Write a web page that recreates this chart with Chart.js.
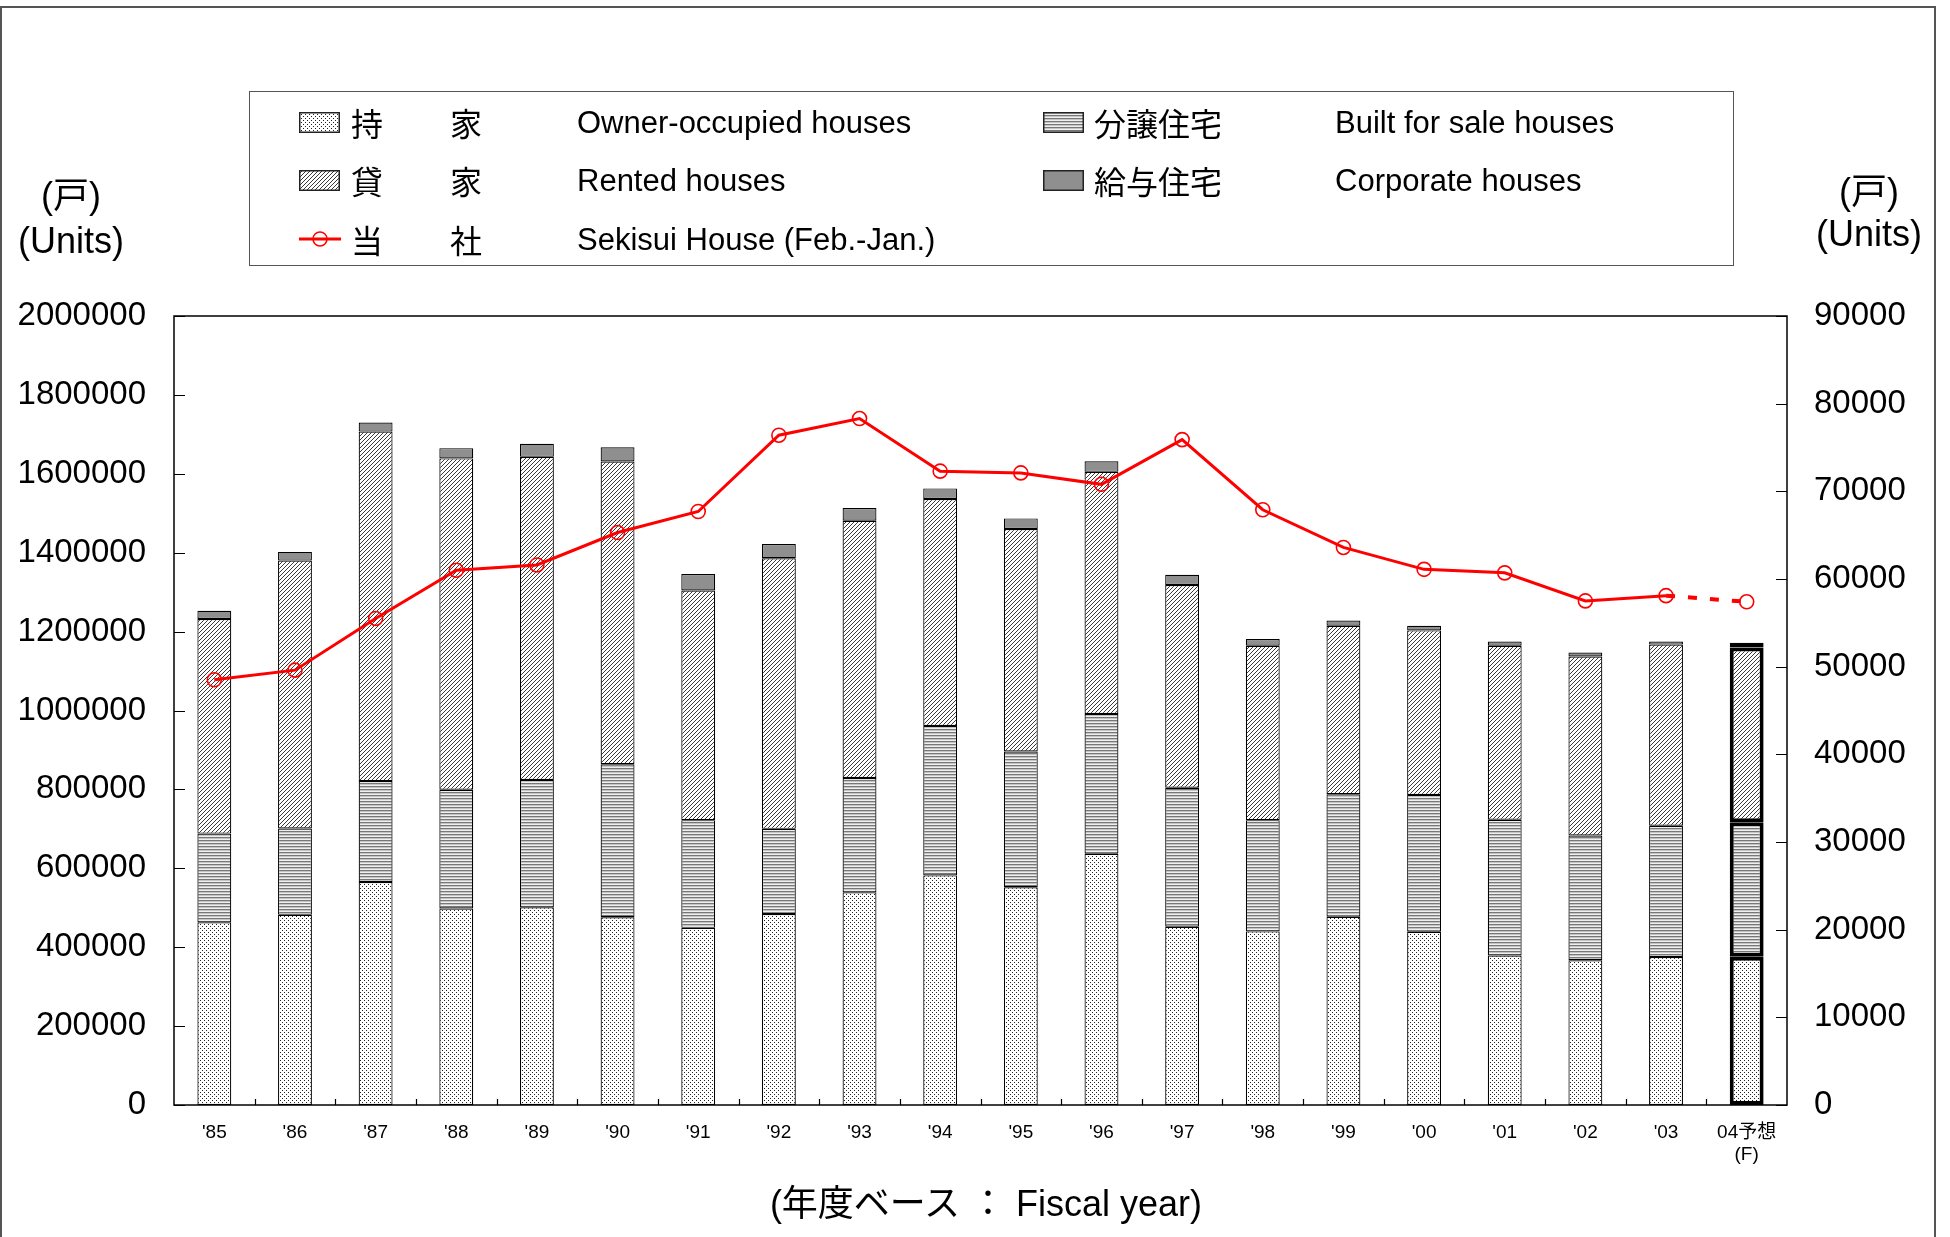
<!DOCTYPE html>
<html>
<head>
<meta charset="utf-8">
<script src="https://cdn.jsdelivr.net/npm/chart.js@4.4.1/dist/chart.umd.min.js"></script>
<style>
  html, body { margin: 0; padding: 0; background: #fff; }
  body { width: 1950px; height: 1237px; position: relative; overflow: hidden;
         font-family: "Liberation Sans", Arial, "Noto Sans CJK JP", sans-serif; }
  #frame { position: absolute; left: 0; top: 6px; width: 1936px; height: 1240px;
           border: 2px solid #555; box-sizing: border-box; }
  #wrap { position: absolute; left: 0; top: 0; width: 1950px; height: 1237px; }
  .t { position: absolute; white-space: nowrap; color: #000; }
  #legend { position: absolute; left: 249px; top: 91px; width: 1485px; height: 175px;
            border: 1.5px solid #555; box-sizing: border-box; }
  .lg { font-size: 31px; font-family: "Liberation Sans", Arial, "Noto Sans CJK JP", sans-serif; }
  .jp { font-size: 32px; font-family: "Noto Sans CJK JP", sans-serif; }
  .unit { font-size: 36px; text-align: center; width: 140px; }
</style>
</head>
<body>
<div id="frame"></div>
<div id="wrap"><canvas id="c" width="1950" height="1237"></canvas></div>

<div class="t unit" style="left:1px; top:166px;">(戸)</div>
<div class="t unit" style="left:1px; top:220px;">(Units)</div>
<div class="t unit" style="left:1799px; top:162px;">(戸)</div>
<div class="t unit" style="left:1799px; top:213px;">(Units)</div>

<div class="t" id="xtitle" style="left:0; width:1972px; top:1174px; text-align:center; font-size:36px; font-family:'Liberation Sans','Noto Sans CJK JP',sans-serif;">(年度ベース ： Fiscal year)</div>

<div id="legend"></div>

<script>
// ---------------- DATA ----------------
const categories = ["'85","'86","'87","'88","'89","'90","'91","'92","'93","'94","'95","'96","'97","'98","'99","'00","'01","'02","'03",["04予想","(F)"]];
const ownerOccupied = [463000,482000,565000,498000,501000,476000,449000,484000,539000,582000,552000,637000,452000,440000,477000,439000,379000,367000,375000,376000];
const builtForSale  = [225000,219000,256000,301000,323000,388000,273000,216000,290000,379000,344000,354000,352000,282000,311000,347000,344000,316000,333000,341000];
const rentedHouses  = [544000,679000,886000,840000,819000,767000,582000,686000,652000,575000,564000,614000,514000,442000,427000,417000,441000,454000,459000,443000];
const corporateHouses = [21000,22000,23000,26000,33000,36000,42000,36000,32000,27000,27000,27000,26000,17000,13000,12000,11000,10000,8000,12000];
const sekisuiHouse  = [48500,49600,55500,61000,61600,65300,67700,76400,78300,72300,72100,70800,75900,67900,63600,61100,60700,57500,58100,57400];
const leftAxisMax = 2000000, leftAxisStep = 200000;
const rightAxisMax = 90000, rightAxisStep = 10000;
const seriesNames = {
  owner: ["持","家","Owner-occupied houses"],
  rented: ["貸","家","Rented houses"],
  sekisui: ["当","社","Sekisui House (Feb.-Jan.)"],
  sale: ["分譲住宅","Built for sale houses"],
  corp: ["給与住宅","Corporate houses"]
};
const forecastIndex = categories.length - 1;

// ---------------- PATTERNS ----------------
function makePattern(kind) {
  const c = document.createElement('canvas');
  const g = c.getContext('2d');
  if (kind === 'dots') {
    c.width = 4; c.height = 4;
    g.fillStyle = '#fff'; g.fillRect(0,0,4,4);
    g.fillStyle = '#222';
    g.fillRect(0,0,1,1); g.fillRect(2,2,1,1);
  } else if (kind === 'hlines') {
    c.width = 4; c.height = 3;
    g.fillStyle = '#efefef'; g.fillRect(0,0,4,3);
    g.fillStyle = '#777'; g.fillRect(0,0,4,1);
    g.fillStyle = '#c4c4c4'; g.fillRect(0,1,4,1);
  } else if (kind === 'diag') {
    c.width = 4; c.height = 4;
    g.fillStyle = '#fff'; g.fillRect(0,0,4,4);
    g.fillStyle = '#3a3a3a';
    g.fillRect(3,0,1,1); g.fillRect(2,1,1,1); g.fillRect(1,2,1,1); g.fillRect(0,3,1,1);
  }
  return c;
}
const ctx = document.getElementById('c').getContext('2d');
const pats = {
  dots: ctx.createPattern(makePattern('dots'), 'repeat'),
  hlines: ctx.createPattern(makePattern('hlines'), 'repeat'),
  diag: ctx.createPattern(makePattern('diag'), 'repeat'),
};
const corpColor = '#8f8f8f';

// ---------------- LEGEND (HTML) ----------------
(function buildLegend() {
  const L = document.getElementById('legend');
  const ox = 249, oy = 91;
  function add(html) { L.insertAdjacentHTML('beforeend', html); }
  function swatch(x, yc, kind) {
    const cv = document.createElement('canvas');
    cv.width = 41; cv.height = 21;
    cv.style.position = 'absolute';
    cv.style.left = (x - ox) + 'px'; cv.style.top = (yc - 10 - oy) + 'px';
    const g = cv.getContext('2d');
    if (kind === 'solid') { g.fillStyle = corpColor; }
    else { g.fillStyle = g.createPattern(makePattern(kind), 'repeat'); }
    g.fillRect(0,0,41,21);
    g.strokeStyle = '#222'; g.lineWidth = 1.5; g.strokeRect(0.75,0.75,39.5,19.5);
    L.appendChild(cv);
  }
  function text(x, yc, s, cls) {
    add(`<div class="t ${cls}" style="left:${x-ox}px; top:${yc-oy}px; transform:translateY(-50%); line-height:1;">${s}</div>`);
  }
  const rows = [121, 179, 238];
  swatch(298, rows[0], 'dots');
  text(350, rows[0], seriesNames.owner[0], 'jp'); text(449, rows[0], seriesNames.owner[1], 'jp'); text(576, rows[0], seriesNames.owner[2], 'lg');
  swatch(298, rows[1], 'diag');
  text(350, rows[1], seriesNames.rented[0], 'jp'); text(449, rows[1], seriesNames.rented[1], 'jp'); text(576, rows[1], seriesNames.rented[2], 'lg');
  const cv = document.createElement('canvas');
  cv.width = 44; cv.height = 20; cv.style.position='absolute';
  cv.style.left = (298-ox)+'px'; cv.style.top = (rows[2]-10-oy)+'px';
  const g = cv.getContext('2d');
  g.strokeStyle = '#ff0000'; g.lineWidth = 3;
  g.beginPath(); g.moveTo(0,10); g.lineTo(42,10); g.stroke();
  g.lineWidth = 1.5; g.beginPath(); g.arc(21,10,7,0,Math.PI*2); g.stroke();
  L.appendChild(cv);
  text(350, rows[2], seriesNames.sekisui[0], 'jp'); text(449, rows[2], seriesNames.sekisui[1], 'jp'); text(576, rows[2], seriesNames.sekisui[2], 'lg');
  swatch(1042, rows[0], 'hlines');
  text(1093, rows[0], seriesNames.sale[0], 'jp'); text(1334, rows[0], seriesNames.sale[1], 'lg');
  swatch(1042, rows[1], 'solid');
  text(1093, rows[1], seriesNames.corp[0], 'jp'); text(1334, rows[1], seriesNames.corp[1], 'lg');
})();

// ---------------- CHART ----------------
const borderWidths = categories.map((_, i) => i === forecastIndex ? 4 : 1.2);

const frameTicks = {
  id: 'frameTicks',
  afterDraw(chart) {
    const { ctx, chartArea: a, scales } = chart;
    ctx.save();
    ctx.strokeStyle = '#000';
    ctx.lineWidth = 1.5;
    ctx.strokeRect(a.left, a.top, a.right - a.left, a.bottom - a.top);
    ctx.lineWidth = 1.2;
    ctx.beginPath();
    scales.y.ticks.forEach(t => {
      const py = Math.round(scales.y.getPixelForValue(t.value)) + 0.5;
      ctx.moveTo(a.left, py); ctx.lineTo(a.left + 11, py);
    });
    scales.y2.ticks.forEach(t => {
      const py = Math.round(scales.y2.getPixelForValue(t.value)) + 0.5;
      ctx.moveTo(a.right - 11, py); ctx.lineTo(a.right, py);
    });
    for (let i = 1; i < categories.length; i++) {
      const px = Math.round((scales.x.getPixelForValue(i - 1) + scales.x.getPixelForValue(i)) / 2) + 0.5;
      ctx.moveTo(px, a.bottom); ctx.lineTo(px, a.bottom - 6);
    }
    ctx.stroke();
    ctx.restore();
  }
};

new Chart(ctx, {
  type: 'bar',
  data: {
    labels: categories,
    datasets: [
      { type: 'line', label: 'Sekisui House', data: sekisuiHouse, yAxisID: 'y2', order: 0,
        borderColor: '#ff0000', borderWidth: 3, tension: 0,
        pointRadius: 7, pointHoverRadius: 7, pointBorderWidth: 1.6,
        pointBorderColor: '#ff0000', pointBackgroundColor: 'rgba(255,255,255,0)',
        segment: { borderDash: c => c.p1DataIndex === forecastIndex ? [9, 13] : undefined,
                   borderWidth: c => c.p1DataIndex === forecastIndex ? 4 : 3 } },
      { label: 'Owner-occupied houses', data: ownerOccupied, backgroundColor: pats.dots, order: 1, stack: 's' },
      { label: 'Built for sale houses', data: builtForSale, backgroundColor: pats.hlines, order: 1, stack: 's' },
      { label: 'Rented houses', data: rentedHouses, backgroundColor: pats.diag, order: 1, stack: 's' },
      { label: 'Corporate houses', data: corporateHouses, backgroundColor: corpColor, order: 1, stack: 's' },
    ].map(d => d.type === 'line' ? d : Object.assign(d, {
      borderColor: '#000', borderWidth: borderWidths, borderSkipped: false,
      categoryPercentage: 1.0, barPercentage: 0.42, yAxisID: 'y'
    }))
  },
  options: {
    responsive: false,
    animation: false,
    events: [],
    layout: { padding: { top: 316, bottom: 0, left: 0, right: 0 } },
    plugins: { legend: { display: false }, tooltip: { enabled: false }, title: { display: false } },
    scales: {
      x: {
        stacked: true,
        grid: { display: false, drawTicks: false },
        border: { display: false },
        ticks: { color: '#000', padding: 16, font: { family: "'Liberation Sans','Noto Sans CJK JP',sans-serif", size: 19 }, maxRotation: 0, autoSkip: false },
        afterFit: s => { s.height = 132; }
      },
      y: {
        position: 'left', stacked: true, min: 0, max: leftAxisMax,
        grid: { display: false, drawTicks: false },
        border: { display: false },
        ticks: { stepSize: leftAxisStep, color: '#000', padding: 28,
                 font: { family: "'Liberation Sans',Arial,sans-serif", size: 33 },
                 callback: v => String(v) },
        afterFit: s => { s.width = 174; }
      },
      y2: {
        position: 'right', min: 0, max: rightAxisMax,
        grid: { display: false, drawTicks: false },
        border: { display: false },
        ticks: { stepSize: rightAxisStep, color: '#000', padding: 27,
                 font: { family: "'Liberation Sans',Arial,sans-serif", size: 33 },
                 callback: v => String(v) },
        afterFit: s => { s.width = 163; }
      }
    }
  },
  plugins: [frameTicks]
});
</script>
</body>
</html>
